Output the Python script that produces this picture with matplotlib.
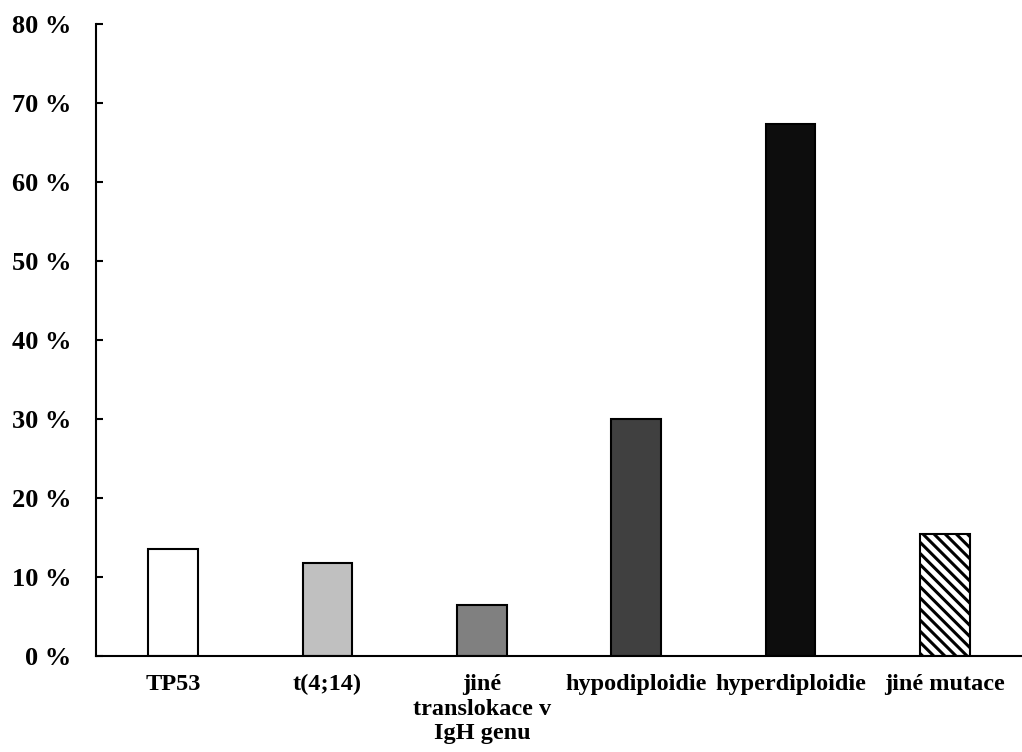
import numpy as np
import matplotlib.pyplot as plt
from matplotlib.ticker import FuncFormatter

# kategorie a podíly (%)
kategorie = ['TP53', 't(4;14)', 'jiné\ntranslokace v\nIgH genu',
             'hypodiploidie', 'hyperdiploidie', 'jiné mutace']
podil = [13.6, 11.8, 6.4, 30.0, 67.3, 15.5]
barvy = ['#ffffff', '#c0c0c0', '#808080', '#404040', '#0d0d0d', '#ffffff']
srafy = ['', '', '', '', '', '\\\\\\']

plt.rcParams['font.family'] = ['Liberation Serif', 'DejaVu Serif']
plt.rcParams['font.weight'] = 'bold'
plt.rcParams['hatch.linewidth'] = 2.2

fig = plt.figure(figsize=(10.22, 7.52), dpi=100)
ax = fig.add_axes([96/1022, 1-656/752, 1-96/1022, (656-24)/752])

x = np.arange(len(kategorie))
bars = ax.bar(x, podil, width=0.32, color=barvy, edgecolor='black', linewidth=1.5)
for b, h in zip(bars, srafy):
    b.set_hatch(h)

ax.set_xlim(-0.5, len(kategorie) - 0.5)
ax.set_ylim(0, 80)
ax.set_yticks(np.arange(0, 81, 10))
ax.yaxis.set_major_formatter(FuncFormatter(lambda v, p: f'{int(v)} %'))
ax.set_xticks(x)
ax.set_xticklabels(kategorie, linespacing=1.22)

ax.spines['top'].set_visible(False)
ax.spines['right'].set_visible(False)
ax.spines['left'].set_linewidth(1.5)
ax.spines['bottom'].set_linewidth(1.5)
ax.tick_params(axis='y', direction='in', length=5, width=1.5, pad=18, labelsize=19)
ax.tick_params(axis='x', length=0, pad=13, labelsize=17.5)

fig.savefig('out.png', dpi=100)
